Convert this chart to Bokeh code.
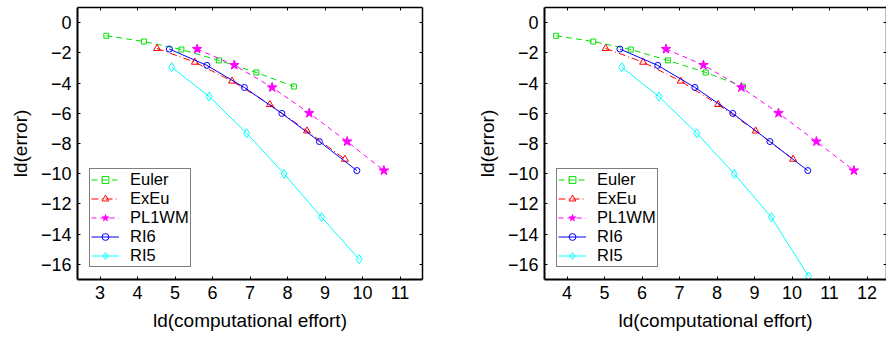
from bokeh.plotting import figure
from bokeh.layouts import row
from bokeh.models import Range1d, FixedTicker, LinearAxis, Legend, LegendItem
from bokeh.embed import file_html
from bokeh.resources import INLINE

# ---- data ----
series_names = ["Euler", "ExEu", "PL1WM", "RI6", "RI5"]

euler_y = [-0.87, -1.25, -1.78, -2.50, -3.30, -4.23]
exeu_y = [-1.71, -2.62, -3.87, -5.42, -7.17, -9.04]
pl1wm_y = [-1.75, -2.81, -4.29, -5.99, -7.87, -9.79]
ri6_y = [-1.75, -2.83, -4.29, -6.01, -7.87, -9.79]

left_euler_x = [3.17, 4.17, 5.17, 6.17, 7.17, 8.17]
left_exeu_x = [4.52, 5.53, 6.52, 7.53, 8.52, 9.53]
left_pl1wm_x = [5.59, 6.58, 7.59, 8.58, 9.59, 10.57]
left_ri6_x = [4.85, 5.85, 6.85, 7.85, 8.85, 9.85]
left_ri5_x = [4.91, 5.91, 6.91, 7.91, 8.91, 9.91]
left_ri5_y = [-2.95, -4.89, -7.32, -10.01, -12.88, -15.66]

right_euler_x = [3.71, 4.70, 5.70, 6.69, 7.70, 8.69]
right_exeu_x = [5.03, 6.03, 7.03, 8.03, 9.03, 10.03]
right_pl1wm_x = [6.64, 7.64, 8.65, 9.64, 10.65, 11.65]
right_ri6_x = [5.41, 6.42, 7.41, 8.42, 9.41, 10.42]
right_ri5_x = [5.46, 6.45, 7.46, 8.46, 9.45, 10.44]
right_ri5_y = [-2.95, -4.89, -7.32, -10.01, -12.88, -16.79]

left_xticks = [3, 4, 5, 6, 7, 8, 9, 10, 11]
right_xticks = [4, 5, 6, 7, 8, 9, 10, 11, 12]
yticks = [-16, -14, -12, -10, -8, -6, -4, -2, 0]

x_label = "ld(computational effort)"
y_label = "ld(error)"

FONT = "Liberation Sans"

styles = {
    "Euler": dict(color="#00e000", dash="6 4", marker="square", size=5),
    "ExEu": dict(color="#ff0000", dash="7 3 1 3", marker="triangle", size=7),
    "PL1WM": dict(color="#ff00ff", dash="5 4", marker="star", size=10),
    "RI6": dict(color="#0000ff", dash="solid", marker="circle", size=6),
    "RI5": dict(color="#00ffff", dash="solid", marker="diamond", size=9),
}


def make_plot(width, xr, xticks, min_left, min_right, data):
    p = figure(width=width, height=338, x_range=Range1d(*xr), y_range=Range1d(-17, 1),
               output_backend="svg", toolbar_location=None,
               min_border_left=min_left, min_border_right=min_right,
               min_border_top=7, min_border_bottom=59,
               x_axis_label=x_label, y_axis_label=y_label)
    p.xgrid.visible = False
    p.ygrid.visible = False
    p.outline_line_color = None
    p.background_fill_color = "white"

    for ax, tk in ((p.xaxis[0], xticks), (p.yaxis[0], yticks)):
        ax.ticker = FixedTicker(ticks=tk)
        ax.major_label_text_font = FONT
        ax.major_label_text_font_size = "18px"
        ax.major_label_text_color = "black"
        ax.axis_label_text_font = FONT
        ax.axis_label_text_font_size = "19px"
        ax.axis_label_text_font_style = "normal"
        ax.axis_label_text_color = "black"
        ax.axis_line_width = 2
        ax.axis_line_color = "black"
        ax.major_tick_in = 3
        ax.major_tick_out = 0
        ax.major_tick_line_color = "black"
        ax.minor_tick_line_color = None
        ax.major_label_standoff = 6
    p.xaxis[0].axis_label_standoff = 8
    p.yaxis[0].axis_label_standoff = 7

    top = LinearAxis(ticker=FixedTicker(ticks=xticks))
    right = LinearAxis(ticker=FixedTicker(ticks=yticks))
    for ax in (top, right):
        ax.major_label_text_font_size = "1px"
        ax.major_label_text_color = None
        ax.major_label_standoff = 0
        ax.major_tick_in = 3
        ax.major_tick_out = 0
        ax.minor_tick_line_color = None
        ax.axis_line_width = 1.5
        ax.axis_line_color = "black"
        ax.major_tick_line_color = "black"
    p.add_layout(top, "above")
    p.add_layout(right, "right")

    items = []
    for name, (xs, ys) in zip(series_names, data):
        st = styles[name]
        ln = p.line(xs, ys, line_color=st["color"], line_width=1, line_dash=st["dash"])
        fill = st["color"] if name == "PL1WM" else None
        mk = p.scatter(xs, ys, marker=st["marker"], size=st["size"], line_color=st["color"],
                       fill_color=fill, line_width=1)
        items.append(LegendItem(label=name, renderers=[ln, mk]))

    leg = Legend(items=items, location=(12, 12))
    leg.label_text_font = FONT
    leg.label_text_font_size = "16.5px"
    leg.label_text_color = "black"
    leg.glyph_width = 28
    leg.glyph_height = 17
    leg.label_height = 17
    leg.label_standoff = 11
    leg.padding = 1
    leg.spacing = 0
    leg.margin = 0
    leg.border_line_color = "black"
    leg.border_line_width = 1.5
    leg.background_fill_color = "white"
    leg.background_fill_alpha = 1
    p.add_layout(leg, "center")
    return p


left_data = [
    (left_euler_x, euler_y),
    (left_exeu_x, exeu_y),
    (left_pl1wm_x, pl1wm_y),
    (left_ri6_x, ri6_y),
    (left_ri5_x, left_ri5_y),
]
right_data = [
    (right_euler_x, euler_y),
    (right_exeu_x, exeu_y),
    (right_pl1wm_x, pl1wm_y),
    (right_ri6_x, ri6_y),
    (right_ri5_x, right_ri5_y),
]

p1 = make_plot(440, (2.4, 11.6), left_xticks, 77, 18, left_data)
p2 = make_plot(446, (3.4, 12.52), right_xticks, 104, 0, right_data)

layout = row(p1, p2)
open("out.html", "w").write(file_html(layout, INLINE))
